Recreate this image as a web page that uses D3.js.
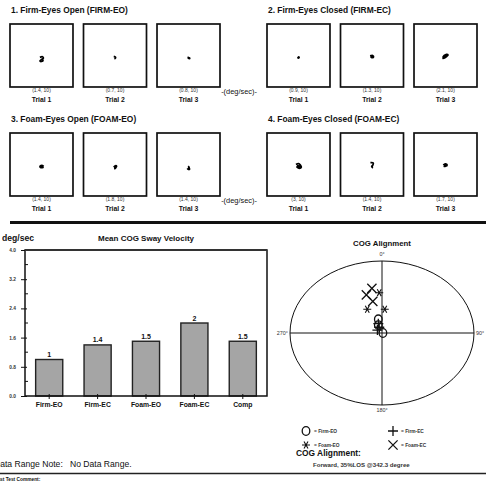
<!DOCTYPE html>
<html>
<head>
<meta charset="utf-8">
<script src="https://cdn.jsdelivr.net/npm/d3@7"></script>
<style>
  html, body { margin: 0; padding: 0; background: #fff; }
  svg { display: block; font-family: "Liberation Sans", Arial, sans-serif; }
</style>
</head>
<body>
<svg id="chart" width="486" height="486"></svg>
<script>
// ---- Sway trace panels -------------------------------------------------
const conditionTitles = ["1. Firm-Eyes Open (FIRM-EO)", "2. Firm-Eyes Closed (FIRM-EC)",
                         "3. Foam-Eyes Open (FOAM-EO)", "4. Foam-Eyes Closed (FOAM-EC)"];
const trialNames = ["Trial 1", "Trial 2", "Trial 3"];
// per-trial summary (sway velocity, duration)
const trialVelocity = [[1.4, 0.7, 0.8], [0.9, 1.3, 2.1], [1.4, 1.8, 1.4], [3, 1.4, 1.7]];
const trialDuration = [[10, 10, 10], [10, 10, 10], [10, 10, 10], [10, 10, 10]];

// COG path of each trial, [lateral, anterior] in box units (box spans -10..10)
const traceFirmEO = [
  [[-0.5,-0.6],[0.3,-0.4],[0.6,-0.9],[0.1,-1.2],[0.5,-1.5],[0.0,-1.9],[-0.5,-1.7],[-0.1,-1.3]],
  [[-0.4,-0.3],[0.1,-0.5],[0.2,-0.7],[0.0,-1.0],[0.2,-0.6],[0.4,-0.5]],
  [[-0.3,-0.5],[0.1,-0.7],[0.4,-0.9],[0.2,-1.0],[-0.1,-0.8],[0.3,-0.8]]
];
const traceFirmEC = [
  [[-0.2,-0.4],[0.2,-0.5],[0.1,-0.8],[-0.2,-0.7],[0.0,-0.5]],
  [[-0.6,-0.1],[0.2,0.0],[0.5,-0.4],[0.1,-0.7],[-0.3,-0.5],[0.2,-0.3],[0.4,-0.6]],
  [[-0.9,-0.7],[-0.4,0.0],[0.3,0.4],[0.8,0.2],[0.4,-0.3],[-0.3,-0.8],[-0.8,-0.9],[-0.2,-0.3],[0.5,0.1]]
];
const traceFoamEO = [
  [[0.7,-0.6],[0.1,-0.3],[-0.5,-0.6],[-0.2,-1.0],[0.5,-0.9],[0.0,-0.7],[-0.4,-0.8]],
  [[-0.4,-0.9],[0.1,-0.4],[0.5,-0.5],[0.3,-0.9],[-0.2,-0.7],[0.2,-1.2],[-0.3,-1.3]],
  [[-0.1,-0.5],[0.2,-0.9],[0.1,-1.3],[-0.3,-1.4],[0.2,-1.6],[0.3,-1.2],[-0.2,-1.0]]
];
const traceFoamEC = [
  [[-0.8,0.0],[0.0,0.3],[0.6,-0.2],[0.9,-0.9],[0.3,-1.2],[-0.5,-0.8],[0.2,-0.5],[0.7,-1.0],[-0.3,-0.3],[0.4,-0.6]],
  [[-0.5,0.6],[0.4,0.5],[0.3,-0.1],[-0.1,-0.6],[0.2,-1.0],[0.0,-0.3]],
  [[-0.7,-0.2],[-0.1,0.2],[0.5,-0.1],[0.2,-0.5],[-0.4,-0.6],[0.1,-0.3],[0.7,-0.4]]
];
const traces = [traceFirmEO, traceFirmEC, traceFoamEO, traceFoamEC];

// ---- Mean COG sway velocity --------------------------------------------
const barCategories = ["Firm-EO", "Firm-EC", "Foam-EO", "Foam-EC", "Comp"];
const barValues = [1, 1.4, 1.5, 2, 1.5];
const barTicks = [0, 0.8, 1.6, 2.4, 3.2, 4.0];

// ---- COG alignment (lateral %, anterior %) per condition ---------------
const alignFirmEO = [[-4, 19], [-4, 11], [1, 0]];
const alignFirmEC = [[-5, 4], [-4, 13], [-3, 8]];
const alignFoamEO = [[-3, 56], [-16, 33], [3, 33]];
const alignFoamEC = [[-11, 62], [-17, 53], [-10, 44]];
const alignmentSummary = "Forward, 35%LOS @342.3 degree";

const svg = d3.select("#chart");
const ink = "#111";

// ======================= panels ==========================================
const groupLeft = [10, 267];
const rowTop = [0, 109];
const boxSize = 63;
const trialX = d3.scaleBand().domain(trialNames).range([0, 210]).paddingInner(0.143).paddingOuter(0);

traces.forEach((trialSet, ci) => {
  const gx = groupLeft[ci % 2];
  const gy = rowTop[Math.floor(ci / 2)];
  const g = svg.append("g").attr("transform", `translate(${gx},${gy})`);

  g.append("text").attr("x", 1).attr("y", 12.5)
    .attr("font-size", 8.4).attr("font-weight", "bold").attr("fill", ink)
    .text(conditionTitles[ci]);

  trialSet.forEach((pts, ti) => {
    const bx = trialX(trialNames[ti]);
    const by = 24;
    const s = trialX.bandwidth();
    const sx = d3.scaleLinear().domain([-10, 10]).range([bx, bx + s]);
    const sy = d3.scaleLinear().domain([10, -10]).range([by, by + s]);

    g.append("rect").attr("x", bx).attr("y", by).attr("width", s).attr("height", s)
      .attr("fill", "#fff").attr("stroke", ink).attr("stroke-width", 1.7);

    g.append("path")
      .attr("d", d3.line().x(d => sx(d[0])).y(d => sy(d[1])).curve(d3.curveCatmullRom)(pts))
      .attr("fill", "none").attr("stroke", "#000").attr("stroke-width", 1.7)
      .attr("stroke-linejoin", "round");

    g.append("text").attr("x", bx + s / 2).attr("y", by + s + 5.5)
      .attr("text-anchor", "middle").attr("font-size", 5).attr("fill", "#333")
      .text(`(${trialVelocity[ci][ti]}, ${trialDuration[ci][ti]})`);

    g.append("text").attr("x", bx + s / 2).attr("y", by + s + 15.5)
      .attr("text-anchor", "middle").attr("font-size", 6.8).attr("font-weight", "bold").attr("fill", ink)
      .text(trialNames[ti]);
  });

  if (ci % 2 === 0) {
    g.append("text").attr("x", 229).attr("y", 24 + boxSize + 6.5)
      .attr("text-anchor", "middle").attr("font-size", 7.4).attr("fill", ink)
      .text("-(deg/sec)-");
  }
});

// divider under the panels
svg.append("line").attr("x1", 10).attr("x2", 486).attr("y1", 222.5).attr("y2", 222.5)
  .attr("stroke", ink).attr("stroke-width", 3);

// ======================= bar chart =======================================
const bx0 = 25, bx1 = 267, byTop = 250, byBot = 396;
const x = d3.scaleBand().domain(barCategories).range([bx0, bx1]).paddingInner(0.44).paddingOuter(0.22);
const y = d3.scaleLinear().domain([0, 4]).range([byBot, byTop]);

svg.append("text").attr("x", 2).attr("y", 241).attr("font-size", 8.6).attr("font-weight", "bold")
  .attr("fill", ink).text("deg/sec");
svg.append("text").attr("x", 146).attr("y", 241).attr("text-anchor", "middle")
  .attr("font-size", 8).attr("font-weight", "bold").attr("fill", ink).text("Mean COG Sway Velocity");

svg.selectAll("rect.bar").data(barValues).enter().append("rect")
  .attr("class", "bar")
  .attr("x", (d, i) => x(barCategories[i]))
  .attr("y", d => y(d))
  .attr("width", x.bandwidth())
  .attr("height", d => y(0) - y(d))
  .attr("fill", "#a5a5a5").attr("stroke", "#222").attr("stroke-width", 1.4);

svg.selectAll("text.val").data(barValues).enter().append("text")
  .attr("class", "val")
  .attr("x", (d, i) => x(barCategories[i]) + x.bandwidth() / 2)
  .attr("y", d => y(d) - 2.5)
  .attr("text-anchor", "middle").attr("font-size", 7).attr("font-weight", "bold").attr("fill", ink)
  .text(d => d);

// y axis
const yAxis = d3.axisLeft(y).tickValues(barTicks).tickFormat(d3.format(".1f")).tickSize(4).tickPadding(5);
const gy = svg.append("g").attr("transform", `translate(${bx0},0)`).call(yAxis);
gy.select(".domain").remove();
gy.selectAll(".tick line").attr("stroke", ink).attr("x2", 2).attr("x1", -4).attr("stroke-width", 1);
gy.selectAll(".tick text").attr("font-size", 4.8).attr("font-weight", "bold").attr("fill", "#333")
  .attr("font-family", "Liberation Sans, Arial, sans-serif");
// minor ticks
svg.selectAll("line.minor").data(d3.range(0.4, 4, 0.8)).enter().append("line")
  .attr("class", "minor").attr("x1", bx0).attr("x2", bx0 + 3)
  .attr("y1", d => y(d)).attr("y2", d => y(d)).attr("stroke", ink).attr("stroke-width", 1);

// x axis
const xAxis = d3.axisBottom(x).tickSize(3).tickPadding(3);
const gxAxis = svg.append("g").attr("transform", `translate(0,${byBot})`).call(xAxis);
gxAxis.select(".domain").remove();
gxAxis.selectAll(".tick line").attr("stroke", ink).attr("y1", -2).attr("y2", 3);
gxAxis.selectAll(".tick text").attr("font-size", 6.8).attr("font-weight", "bold").attr("fill", ink)
  .attr("font-family", "Liberation Sans, Arial, sans-serif");

// frame
svg.append("path")
  .attr("d", `M${bx0},${byTop}V${byBot}H${bx1}V${byTop}Z`)
  .attr("fill", "none").attr("stroke", ink).attr("stroke-width", 1.5);
svg.append("line").attr("x1", bx0).attr("x2", bx1).attr("y1", byTop).attr("y2", byTop)
  .attr("stroke", "#333").attr("stroke-width", 2.2);

// ======================= COG alignment ===================================
const cx = 382, cy = 333, rx = 92, ry = 72;
const ax = d3.scaleLinear().domain([-100, 100]).range([cx - rx, cx + rx]);
const ay = d3.scaleLinear().domain([-100, 100]).range([cy + ry, cy - ry]);

svg.append("text").attr("x", cx).attr("y", 246).attr("text-anchor", "middle")
  .attr("font-size", 7.8).attr("font-weight", "bold").attr("fill", ink).text("COG Alignment");

svg.append("ellipse").attr("cx", ax(0)).attr("cy", ay(0)).attr("rx", ax(100) - ax(0)).attr("ry", ay(-100) - ay(0))
  .attr("fill", "none").attr("stroke", ink).attr("stroke-width", 1);
svg.append("line").attr("x1", ax(-100)).attr("x2", ax(100)).attr("y1", ay(0)).attr("y2", ay(0))
  .attr("stroke", ink).attr("stroke-width", 1);
svg.append("line").attr("x1", ax(0)).attr("x2", ax(0)).attr("y1", ay(100)).attr("y2", ay(-100))
  .attr("stroke", ink).attr("stroke-width", 1);

const degLabel = (t, xx, yy, anchor) => svg.append("text").attr("x", xx).attr("y", yy)
  .attr("text-anchor", anchor).attr("font-size", 5.4).attr("fill", "#333").text(t);
degLabel("0°", ax(0), ay(100) - 5, "middle");
degLabel("180°", ax(0), ay(-100) + 7, "middle");
degLabel("270°", ax(-100) - 2, ay(0) + 2, "end");
degLabel("90°", ax(100) + 2, ay(0) + 2, "start");

// marker drawers
function drawCircle(g, px, py, k) {
  g.append("ellipse").attr("cx", px).attr("cy", py).attr("rx", 3.8 * k).attr("ry", 4.3 * k)
    .attr("fill", "none").attr("stroke", ink).attr("stroke-width", 1.3);
}
function drawPlus(g, px, py, k) {
  const s = 5 * k;
  g.append("path").attr("d", `M${px - s},${py}H${px + s}M${px},${py - s}V${py + s}`)
    .attr("stroke", ink).attr("stroke-width", 1.3);
}
function drawStar(g, px, py, k) {
  const s = 4 * k;
  const c = s * Math.cos(Math.PI / 3), n = s * Math.sin(Math.PI / 3);
  g.append("path").attr("d",
    `M${px - s},${py}H${px + s}M${px - c},${py - n}L${px + c},${py + n}M${px + c},${py - n}L${px - c},${py + n}`)
    .attr("stroke", ink).attr("stroke-width", 1.1);
}
function drawX(g, px, py, k) {
  const s = 4.6 * k;
  g.append("path").attr("d", `M${px - s},${py - s}L${px + s},${py + s}M${px + s},${py - s}L${px - s},${py + s}`)
    .attr("stroke", ink).attr("stroke-width", 1.3);
}

const markG = svg.append("g");
const alignSets = [[alignFirmEO, drawCircle], [alignFirmEC, drawPlus], [alignFoamEO, drawStar], [alignFoamEC, drawX]];
alignSets.forEach(([pts, fn]) => pts.forEach(p => fn(markG, ax(p[0]), ay(p[1]), 1)));

// legend
const legendNames = ["= Firm-EO", "= Firm-EC", "= Foam-EO", "= Foam-EC"];
const legendFns = [drawCircle, drawPlus, drawStar, drawX];
const legendX = [306, 393], legendY = [431, 445];
legendNames.forEach((name, i) => {
  const lx = legendX[i % 2], ly = legendY[Math.floor(i / 2)];
  legendFns[i](svg, lx, ly, 1);
  svg.append("text").attr("x", lx + 8).attr("y", ly + 2).attr("font-size", 4.8).attr("font-weight", "bold")
    .attr("fill", "#333").text(name);
});

svg.append("text").attr("x", 296).attr("y", 456).attr("font-size", 8.4).attr("font-weight", "bold")
  .attr("fill", ink).text("COG Alignment:");
svg.append("text").attr("x", 313).attr("y", 467).attr("font-size", 6.1).attr("font-weight", "bold")
  .attr("fill", "#333").text(alignmentSummary);

// ======================= footer ==========================================
svg.append("text").attr("x", -6).attr("y", 467).attr("font-size", 8.6).attr("fill", ink)
  .attr("xml:space", "preserve").text("Data Range Note:   No Data Range.");
svg.append("line").attr("x1", 0).attr("x2", 486).attr("y1", 473.5).attr("y2", 473.5)
  .attr("stroke", "#222").attr("stroke-width", 1.4);
svg.append("text").attr("x", -5.5).attr("y", 481).attr("font-size", 4.8).attr("font-weight", "bold")
  .attr("fill", ink).text("Last Test Comment:");
</script>
</body>
</html>
